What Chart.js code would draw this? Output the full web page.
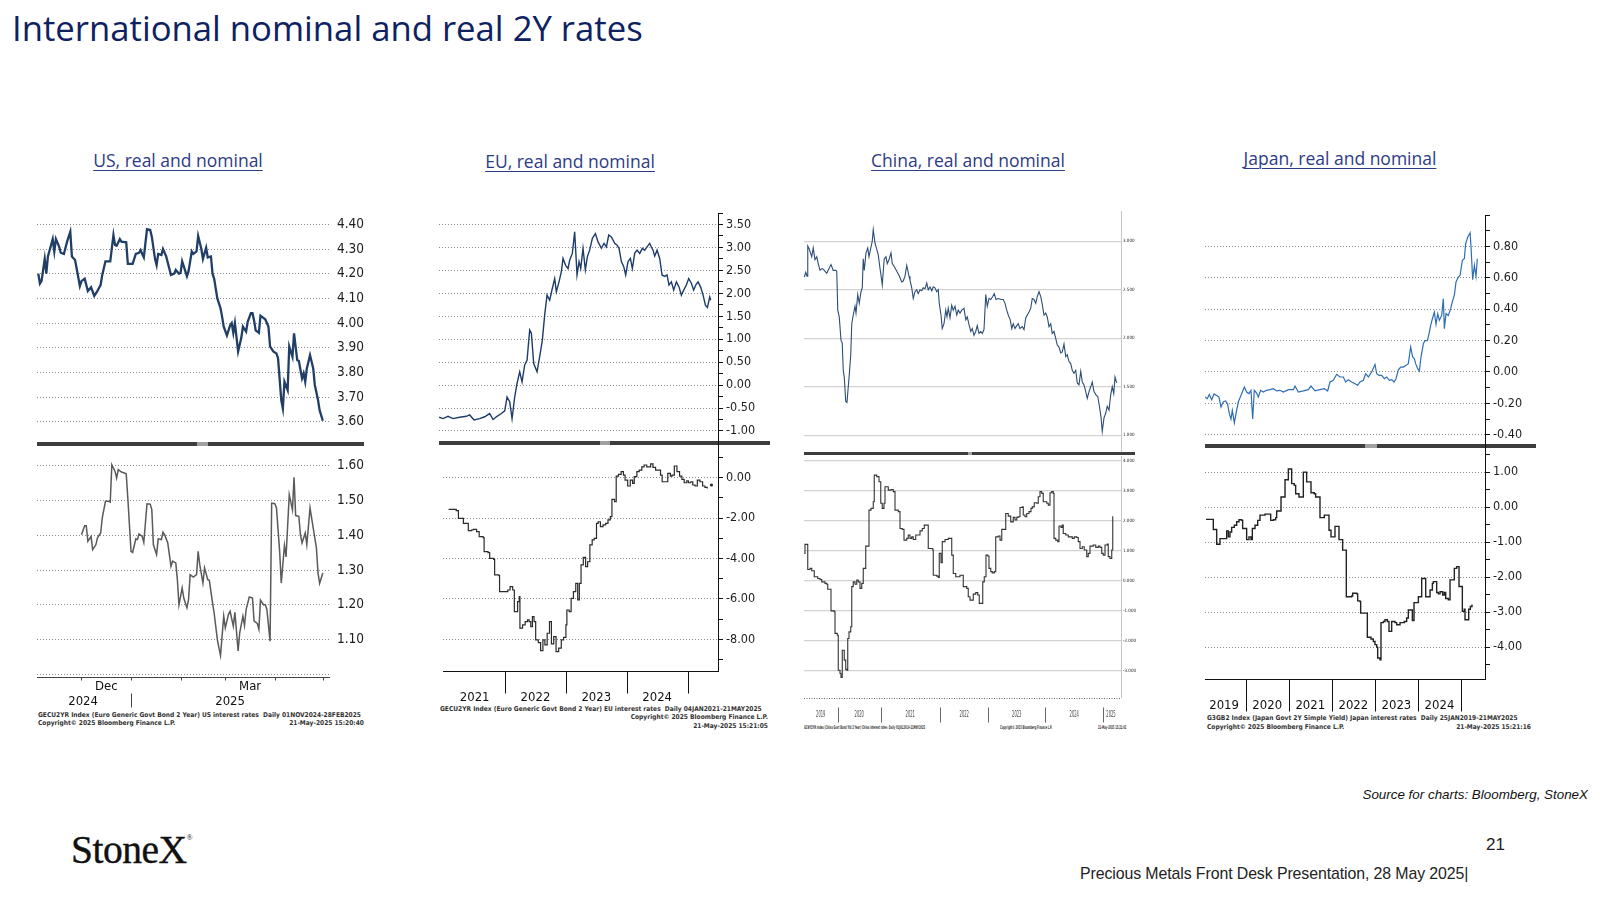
<!DOCTYPE html>
<html>
<head>
<meta charset="utf-8">
<title>International nominal and real 2Y rates</title>
<script src="https://cdn.jsdelivr.net/npm/chart.js@4.4.1/dist/chart.umd.min.js"></script>
<style>
  body { margin: 0; width: 1600px; height: 900px; background: #fff; position: relative; overflow: hidden; font-family: 'Liberation Sans', Arial, sans-serif; }
  .abs { position: absolute; white-space: nowrap; }
  .cw { position: absolute; }
  .ptitle { position: absolute; width: 400px; text-align: center; font: 400 17.5px 'Open Sans', sans-serif; line-height: 24px; color: #2c3b85; text-decoration: underline; text-decoration-thickness: 1px; text-underline-offset: 3px; }
  .fn { position: absolute; white-space: nowrap; font: 600 6.6px 'DejaVu Sans Condensed', 'Liberation Sans', sans-serif; line-height: 8px; color: #333; }
  .bar { position: absolute; background: #3d3d3d; }
  .bar i { position: absolute; top: 0; bottom: 0; background: #a0a0a0; }
</style>
</head>
<body>

<div class="abs" style="left:12px;top:6px;font:400 34.7px 'Open Sans',sans-serif;line-height:44px;color:#0e2262;">International nominal and real 2Y rates</div>

<div class="ptitle" style="left:-22px;top:148px;">US, real and nominal</div>
<div class="ptitle" style="left:370px;top:149px;">EU, real and nominal</div>
<div class="ptitle" style="left:768px;top:148px;">China, real and nominal</div>
<div class="ptitle" style="left:1140px;top:146px;">Japan, real and nominal</div>

<div class="bar" style="left:37px;top:442px;width:327px;height:4px;"><i style="left:160px;width:11px;"></i></div>
<div class="bar" style="left:439px;top:441px;width:331px;height:4px;"><i style="left:161px;width:10px;"></i></div>
<div class="bar" style="left:804px;top:452px;width:331px;height:3px;"><i style="left:164px;width:4px;"></i></div>
<div class="bar" style="left:1205px;top:444px;width:331px;height:4px;"><i style="left:160px;width:12px;"></i></div>
<div class="abs" style="left:718px;top:440px;width:1px;height:6px;background:#111;"></div>
<div class="abs" style="left:1485px;top:443px;width:1px;height:7px;background:#111;"></div>

<div class="fn" style="left:38px;top:711px;">GECU2YR Index (Euro Generic Govt Bond 2 Year) US interest rates&nbsp; Daily 01NOV2024-28FEB2025</div>
<div class="fn" style="left:38px;top:719px;">Copyright© 2025 Bloomberg Finance L.P.</div>
<div class="fn" style="right:1236px;top:719px;">21-May-2025 15:20:40</div>

<div class="fn" style="left:440px;top:705px;">GECU2YR Index (Euro Generic Govt Bond 2 Year) EU interest rates&nbsp; Daily 04JAN2021-21MAY2025</div>
<div class="fn" style="right:832px;top:713px;">Copyright© 2025 Bloomberg Finance L.P.</div>
<div class="fn" style="right:832px;top:722px;">21-May-2025 15:21:05</div>

<div class="fn" style="left:804px;top:723px;font-size:5px;transform:scaleX(0.5);transform-origin:left;">GCNY2YR Index (China Govt Bond Yld 2 Year) China interest rates&nbsp; Daily 01JUL2019-21MAY2025</div>
<div class="fn" style="left:1000px;top:723px;font-size:5px;transform:scaleX(0.5);transform-origin:left;">Copyright© 2025 Bloomberg Finance L.P.</div>
<div class="fn" style="left:1098px;top:723px;font-size:5px;transform:scaleX(0.5);transform-origin:left;">21-May-2025 15:21:02</div>

<div class="fn" style="left:1207px;top:714px;">G3GB2 Index (Japan Govt 2Y Simple Yield) Japan interest rates&nbsp; Daily 25JAN2019-21MAY2025</div>
<div class="fn" style="left:1207px;top:723px;">Copyright© 2025 Bloomberg Finance L.P.</div>
<div class="fn" style="right:69px;top:723px;">21-May-2025 15:21:16</div>

<div class="abs" style="right:12px;top:787px;font:italic 13.4px 'Liberation Sans',Arial,sans-serif;line-height:16px;color:#111;">Source for charts: Bloomberg, StoneX</div>
<div class="abs" style="left:71px;top:817px;font:400 39.5px 'Liberation Serif','Times New Roman',serif;line-height:42px;color:#111;letter-spacing:-0.5px;-webkit-text-stroke:0.4px #111;">StoneX<span style="font-size:8px;vertical-align:23px;-webkit-text-stroke:0;">®</span></div>
<div class="abs" style="left:1486px;top:835px;font:17px 'Liberation Sans',Arial,sans-serif;line-height:20px;color:#222;">21</div>
<div class="abs" style="left:1080px;top:864px;font:15.9px 'Liberation Sans',Arial,sans-serif;line-height:20px;color:#222;letter-spacing:-0.1px;">Precious Metals Front Desk Presentation, 28 May 2025|</div>

<script>
// ---- US 2Y (days since 1 Nov 2024) ----
const usNomDays = [3,4,5,7,8,9,12,13,14,16,17,19,21,23,24,26,27,29,30,32,34,36,38,40,42,43,45,47,48,50,51,52,54,55,58,59,62,64,66,67,68,69,71,73,74,76,77,78,80,81,83,86,88,89,91,92,93,96,97,99,100,102,103,105,106,108,109,111,112,113,115,117,118,119,121,123,124,125,126,128,130,131,133,134,136,137,138,139,141,142,144,145,147,148,150,152,153,155,156,157,159,160,162,163,165,166,168,169,170,171,173,175,176,178,179,181];
const usNomVals = [4.20,4.16,4.17,4.26,4.20,4.27,4.34,4.29,4.34,4.31,4.285,4.28,4.33,4.37,4.27,4.255,4.22,4.15,4.17,4.18,4.13,4.145,4.11,4.13,4.155,4.195,4.25,4.25,4.25,4.357,4.316,4.313,4.34,4.33,4.327,4.24,4.24,4.28,4.285,4.296,4.28,4.266,4.38,4.377,4.35,4.26,4.235,4.28,4.276,4.30,4.27,4.195,4.20,4.215,4.20,4.204,4.25,4.19,4.21,4.29,4.28,4.29,4.353,4.30,4.26,4.305,4.266,4.27,4.20,4.18,4.10,4.06,4.025,3.985,3.95,3.99,4.00,3.96,4.00,3.885,3.94,3.985,3.965,4.005,4.04,4.04,4.01,3.97,3.96,4.03,4.02,4.015,3.985,3.905,3.885,3.877,3.857,3.688,3.654,3.762,3.728,3.905,3.863,3.958,3.85,3.846,3.776,3.796,3.762,3.816,3.87,3.816,3.749,3.688,3.647,3.604];
const usRealDays = [30,32,33,34,36,37,39,40,42,43,45,47,48,49,51,52,53,55,56,58,59,61,62,64,65,66,68,69,71,73,74,75,77,78,80,81,82,84,86,87,89,90,91,93,94,96,97,98,100,102,103,104,106,107,109,110,112,113,115,116,117,119,120,122,123,125,126,128,129,131,132,133,135,137,138,140,141,142,144,145,146,148,149,151,152,154,155,157,158,160,162,163,164,166,167,168,170,171,172,173,175,177,178,179,181];
const usRealVals = [1.402,1.428,1.428,1.383,1.397,1.359,1.373,1.393,1.407,1.45,1.498,1.498,1.496,1.603,1.584,1.565,1.589,1.582,1.581,1.577,1.507,1.354,1.351,1.39,1.388,1.404,1.397,1.38,1.491,1.49,1.474,1.373,1.345,1.39,1.388,1.409,1.402,1.378,1.311,1.326,1.321,1.273,1.20,1.249,1.22,1.192,1.216,1.287,1.28,1.287,1.354,1.316,1.263,1.307,1.273,1.271,1.206,1.177,1.101,1.077,1.055,1.168,1.134,1.173,1.182,1.139,1.179,1.068,1.12,1.168,1.141,1.187,1.223,1.22,1.154,1.147,1.13,1.214,1.20,1.201,1.187,1.096,1.493,1.491,1.479,1.354,1.263,1.371,1.338,1.517,1.474,1.567,1.457,1.455,1.402,1.378,1.407,1.373,1.426,1.479,1.421,1.364,1.292,1.262,1.292];
const usNomTicks = [3.6,3.7,3.8,3.9,4.0,4.1,4.2,4.3,4.4];
const usRealTicks = [1.1,1.2,1.3,1.4,1.5,1.6];
const usRealGridOnly = [1.0];
const usMonthTicks = [30,61,92,120,151,181];
const usMonthLabels = ['Dec','Mar'];
const usMonthLabelAt = [45.5,135.5];
const usYearLabels = ['2024','2025'];
const usYearLabelAt = [31,123];
const usYearSeps = [61];

// ---- EU 2Y (decimal years) ----
const euNomYears = [2020.98,2021.044,2021.125,2021.206,2021.314,2021.422,2021.476,2021.547,2021.639,2021.72,2021.8,2021.855,2021.92,2021.99,2022.044,2022.082,2022.125,2022.163,2022.206,2022.244,2022.287,2022.325,2022.368,2022.406,2022.449,2022.476,2022.514,2022.568,2022.611,2022.654,2022.692,2022.73,2022.773,2022.816,2022.854,2022.881,2022.924,2022.962,2022.989,2023.032,2023.07,2023.097,2023.14,2023.178,2023.216,2023.249,2023.276,2023.313,2023.351,2023.384,2023.421,2023.465,2023.514,2023.557,2023.611,2023.654,2023.692,2023.73,2023.773,2023.827,2023.865,2023.897,2023.935,2023.973,2024.005,2024.043,2024.081,2024.113,2024.151,2024.189,2024.232,2024.275,2024.313,2024.351,2024.394,2024.421,2024.448,2024.475,2024.513,2024.556,2024.594,2024.637,2024.675,2024.707,2024.745,2024.783,2024.826,2024.869,2024.907,2024.945,2024.988,2025.026,2025.069,2025.107,2025.14,2025.178,2025.221,2025.259,2025.297,2025.329,2025.367,2025.383];
const euNomVals = [-0.70,-0.73,-0.68,-0.73,-0.70,-0.68,-0.65,-0.76,-0.73,-0.69,-0.62,-0.75,-0.68,-0.62,-0.56,-0.26,-0.36,-0.73,-0.26,0.04,0.29,0.07,0.44,0.54,1.20,1.13,0.47,0.29,0.62,0.98,1.53,1.96,1.85,2.11,2.32,2.03,2.25,2.47,2.76,2.61,2.54,2.72,2.87,3.34,2.40,2.69,2.54,2.98,2.51,2.80,2.94,3.20,3.30,3.12,2.98,3.09,3.01,3.27,3.23,3.09,3.05,2.98,2.69,2.58,2.40,2.69,2.76,2.54,2.87,2.94,2.87,2.98,2.94,3.01,3.09,3.01,2.94,2.81,2.94,2.76,2.40,2.37,2.40,2.18,2.25,2.07,2.25,2.14,1.96,2.07,2.18,2.32,2.22,2.07,2.18,2.25,2.13,1.96,1.74,1.69,1.92,1.85];
const euRealYears = [2021.071,2021.142,2021.196,2021.233,2021.287,2021.314,2021.368,2021.395,2021.449,2021.476,2021.531,2021.574,2021.639,2021.655,2021.72,2021.747,2021.811,2021.828,2021.898,2021.909,2021.99,2022.044,2022.082,2022.125,2022.152,2022.206,2022.233,2022.244,2022.287,2022.33,2022.368,2022.395,2022.422,2022.449,2022.476,2022.503,2022.546,2022.584,2022.622,2022.654,2022.692,2022.73,2022.762,2022.8,2022.838,2022.881,2022.924,2022.962,2023.0,2023.016,2023.054,2023.086,2023.124,2023.162,2023.194,2023.221,2023.249,2023.286,2023.324,2023.357,2023.394,2023.432,2023.465,2023.503,2023.53,2023.567,2023.61,2023.654,2023.692,2023.73,2023.757,2023.8,2023.827,2023.865,2023.908,2023.946,2023.973,2024.016,2024.059,2024.097,2024.124,2024.167,2024.205,2024.248,2024.286,2024.329,2024.394,2024.432,2024.475,2024.513,2024.556,2024.583,2024.637,2024.675,2024.718,2024.745,2024.783,2024.826,2024.869,2024.907,2024.945,2024.988,2025.015,2025.053,2025.086,2025.124,2025.161,2025.205,2025.248,2025.286,2025.324,2025.36,2025.394];
const euRealVals = [-1.57,-1.57,-1.63,-2.01,-2.01,-2.26,-2.26,-2.62,-2.59,-2.56,-2.67,-2.92,-2.97,-3.66,-3.71,-3.99,-4.04,-4.81,-4.85,-5.64,-5.64,-5.56,-5.39,-5.56,-6.63,-6.13,-5.89,-7.45,-7.29,-7.12,-7.04,-7.12,-7.37,-6.88,-7.12,-8.03,-8.16,-8.56,-8.03,-8.28,-7.70,-7.12,-8.23,-7.87,-8.61,-8.44,-8.03,-7.90,-7.29,-6.55,-6.63,-5.97,-5.64,-5.23,-6.05,-5.23,-4.32,-3.94,-4.40,-4.16,-3.33,-3.08,-3.00,-2.26,-2.18,-2.42,-2.34,-2.26,-2.09,-1.93,-1.07,-1.19,0.08,0.16,0.30,0.13,-0.12,-0.41,-0.12,-0.28,0.05,0.30,0.38,0.54,0.63,0.54,0.68,0.51,0.38,0.38,0.13,-0.20,-0.20,0.21,0.08,0.13,0.58,0.30,0.08,-0.08,-0.25,-0.15,-0.25,-0.20,-0.36,-0.41,-0.12,-0.20,-0.41,-0.48,-0.53,null,-0.36];
const euNomTicks = [-1.0,-0.5,0.0,0.5,1.0,1.5,2.0,2.5,3.0,3.5];
const euNomMinor = [-0.75,-0.25,0.25,0.75,1.25,1.75,2.25,2.75,3.25,3.75];
const euRealTicks = [-8,-6,-4,-2,0];
const euRealMinor = [-9,-7,-5,-3,-1,1];
const euYearSeps = [2022,2023,2024,2025];
const euYearLabels = ['2021','2022','2023','2024'];
const euYearLabelAt = [2021.5,2022.5,2023.5,2024.5];

// ---- China 2Y (trading-day observation number) ----
const chNomObs = [1,7,12,15,21,31,37,44,51,57,64,73,81,91,100,108,117,127,131,135,141,148,153,157,161,167,172,177,181,187,191,197,204,208,215,221,228,233,237,241,248,255,260,267,273,277,284,291,297,304,308,313,317,321,328,333,340,348,353,361,371,380,391,397,404,411,420,424,431,437,444,451,457,464,471,477,484,491,497,504,511,517,524,531,537,541,548,553,560,567,572,577,584,591,597,604,611,617,624,631,640,647,653,660,667,673,680,687,693,700,707,713,720,727,733,740,747,755,761,768,777,788,797,804,811,817,825,831,837,844,851,857,864,873,880,887,893,900,907,913,920,927,933,940,947,953,960,967,973,980,987,993,1000,1007,1013,1020,1027,1033,1040,1047,1053,1060,1067,1073,1080,1087,1093,1100,1107,1113,1120,1127,1133,1140,1147,1153,1160,1167,1175,1181,1188,1193,1200,1207,1213,1220,1227,1233,1239,1244,1251];
const chNomVals = [2.63,2.68,2.64,2.95,2.92,2.84,2.93,2.81,2.84,2.77,2.70,2.72,2.70,2.67,2.72,2.76,2.70,2.70,2.69,2.29,2.22,1.98,1.95,1.67,1.60,1.35,1.34,1.50,1.62,1.83,2.15,2.24,2.33,2.26,2.45,2.36,2.48,2.52,2.82,2.70,2.88,2.93,2.84,2.93,3.00,3.12,2.98,2.92,2.86,2.72,2.65,2.55,2.69,2.82,2.84,2.77,2.81,2.88,2.77,2.74,2.69,2.65,2.58,2.59,2.64,2.75,2.64,2.60,2.52,2.41,2.48,2.50,2.46,2.50,2.49,2.52,2.51,2.57,2.50,2.53,2.49,2.53,2.52,2.48,2.50,2.36,2.24,2.10,2.15,2.29,2.22,2.31,2.21,2.34,2.29,2.33,2.24,2.29,2.26,2.29,2.31,2.19,2.22,2.14,2.07,2.10,2.03,2.07,2.13,2.05,2.07,2.05,2.09,2.45,2.33,2.41,2.40,2.43,2.46,2.40,2.41,2.40,2.40,2.36,2.29,2.24,2.19,2.10,2.15,2.10,2.13,2.15,2.10,2.12,2.09,2.21,2.24,2.27,2.31,2.41,2.40,2.36,2.43,2.48,2.43,2.35,2.24,2.26,2.22,2.12,2.15,2.05,2.07,2.00,1.93,1.91,1.85,1.86,1.94,1.81,1.83,1.76,1.74,1.67,1.64,1.67,1.54,1.52,1.66,1.55,1.52,1.45,1.38,1.45,1.50,1.55,1.45,1.42,1.40,1.31,1.19,1.04,1.18,1.23,1.30,1.26,1.42,1.50,1.43,1.60,1.54];
const chRealObs = [1,4,12,15,21,24,31,37,41,51,55,64,71,84,91,95,104,108,121,124,133,137,144,148,153,161,167,171,175,180,187,191,197,204,211,217,224,231,237,241,247,255,260,268,277,281,291,300,307,313,320,324,331,337,348,357,364,377,384,393,400,411,417,424,431,437,447,455,464,473,481,491,497,515,517,531,537,541,548,553,564,577,584,591,597,607,624,631,637,651,657,664,673,677,687,695,701,711,715,721,728,735,740,747,753,761,767,777,784,791,801,807,817,827,837,844,851,857,864,873,877,884,891,900,908,913,921,931,937,944,951,957,964,971,977,984,991,997,1000,1007,1015,1020,1028,1033,1037,1047,1057,1067,1073,1081,1091,1097,1104,1113,1121,1131,1137,1144,1157,1167,1177,1184,1191,1197,1204,1213,1217,1224,1231,1235];
const chRealVals = [0.91,1.21,1.21,0.37,0.37,0.41,0.33,0.33,0.13,0.13,0.07,0.04,-0.04,-0.09,-0.12,-0.29,-0.29,-1.01,-1.04,-1.76,-1.82,-2.99,-3.10,-3.23,-2.32,-2.65,-2.96,-2.99,-1.93,-1.71,-1.54,-0.20,-0.04,-0.12,0.02,-0.04,-0.26,-0.09,0.41,0.41,1.15,1.15,2.35,2.41,2.63,3.52,3.47,3.30,2.58,2.41,2.58,3.13,3.13,3.02,3.04,2.97,2.35,2.30,1.74,1.71,1.35,1.41,1.52,1.41,1.46,1.37,1.52,1.52,1.66,1.74,1.85,1.85,1.07,1.02,0.18,0.15,0.11,0.91,0.60,1.30,1.37,1.41,1.41,0.85,0.24,0.13,0.18,0.18,-0.20,-0.26,-0.54,-0.65,-0.65,-0.45,-0.40,-0.48,-0.76,-0.76,-0.04,0.13,0.85,0.82,0.41,0.30,0.26,0.30,1.46,1.49,1.35,1.71,1.71,2.24,2.15,1.96,2.11,2.02,2.11,2.13,2.44,2.46,2.19,2.13,2.24,2.30,2.41,2.46,2.60,2.58,2.80,2.97,2.91,2.63,2.63,2.58,2.52,2.93,2.97,2.91,1.41,1.35,1.30,1.82,1.77,1.85,1.57,1.52,1.46,1.46,1.41,1.46,1.44,1.30,1.07,1.13,1.02,0.80,0.91,1.15,1.19,1.11,1.15,1.11,0.91,0.85,1.19,1.22,0.80,0.74,1.02,2.15];
const chNomTicks = [1.0,1.5,2.0,2.5,3.0];
const chRealTicks = [-3,-2,-1,0,1,2,3,4];
const chYearSeps = [135,307,544,737,964,1197];
const chYearLabels = ['2019','2020','2021','2022','2023','2024','2025'];
const chYearLabelAt = [67,221,425,641,851,1081,1228];

// ---- Japan 2Y (decimal years) ----
const jpNomYears = [2019.056,2019.11,2019.156,2019.211,2019.265,2019.327,2019.381,2019.427,2019.481,2019.536,2019.582,2019.621,2019.659,2019.69,2019.737,2019.776,2019.83,2019.876,2019.923,2019.969,2020.023,2020.077,2020.124,2020.163,2020.201,2020.255,2020.294,2020.348,2020.41,2020.488,2020.565,2020.642,2020.72,2020.797,2020.875,2020.991,2021.107,2021.146,2021.223,2021.339,2021.455,2021.517,2021.61,2021.726,2021.827,2021.904,2021.958,2022.036,2022.113,2022.19,2022.268,2022.322,2022.384,2022.461,2022.539,2022.601,2022.655,2022.733,2022.787,2022.849,2022.926,2023.003,2023.042,2023.096,2023.158,2023.22,2023.274,2023.336,2023.39,2023.444,2023.491,2023.545,2023.599,2023.661,2023.723,2023.777,2023.831,2023.877,2023.916,2023.947,2023.994,2024.033,2024.071,2024.126,2024.164,2024.219,2024.258,2024.296,2024.335,2024.381,2024.42,2024.459,2024.497,2024.551,2024.59,2024.613,2024.652,2024.706,2024.76,2024.807,2024.845,2024.884,2024.938,2024.977,2025.031,2025.077,2025.108,2025.155,2025.21,2025.233,2025.271,2025.31,2025.348,2025.379];
const jpNomVals = [-0.16,-0.17,-0.143,-0.177,-0.14,-0.15,-0.16,-0.223,-0.19,-0.185,-0.206,-0.266,-0.30,-0.245,-0.325,-0.266,-0.19,-0.16,-0.128,-0.096,-0.128,-0.138,-0.117,-0.30,-0.117,-0.134,-0.16,-0.117,-0.128,-0.117,-0.113,-0.107,-0.121,-0.117,-0.128,-0.113,-0.113,-0.09,-0.128,-0.121,-0.113,-0.09,-0.121,-0.113,-0.107,-0.121,-0.064,-0.053,-0.015,-0.032,-0.032,-0.064,-0.049,-0.064,-0.075,-0.085,-0.064,-0.053,-0.011,-0.032,0.00,0.048,-0.011,-0.022,-0.022,-0.043,-0.032,-0.053,-0.049,-0.064,-0.043,0.014,0.031,0.031,0.042,0.053,0.159,0.095,0.085,0.053,0.021,0.006,0.095,0.18,0.20,0.20,0.244,0.297,0.339,0.382,0.303,0.371,0.329,0.36,0.467,0.276,0.371,0.36,0.403,0.456,0.488,0.573,0.605,0.615,0.711,0.721,0.817,0.859,0.887,0.796,0.588,0.679,0.609,0.721];
const jpRealYears = [2019.079,2019.211,2019.249,2019.303,2019.327,2019.389,2019.404,2019.52,2019.559,2019.598,2019.636,2019.675,2019.737,2019.791,2019.845,2019.907,2019.93,2020.0,2020.023,2020.077,2020.124,2020.155,2020.217,2020.255,2020.279,2020.333,2020.449,2020.542,2020.581,2020.643,2020.697,2020.72,2020.798,2020.821,2020.891,2020.914,2020.975,2020.991,2021.053,2021.068,2021.13,2021.161,2021.238,2021.3,2021.339,2021.393,2021.416,2021.494,2021.517,2021.594,2021.625,2021.703,2021.726,2021.803,2021.827,2021.904,2021.935,2021.981,2022.036,2022.074,2022.152,2022.167,2022.229,2022.252,2022.322,2022.337,2022.399,2022.461,2022.485,2022.578,2022.601,2022.655,2022.67,2022.755,2022.809,2022.825,2022.91,2022.964,2023.003,2023.042,2023.065,2023.119,2023.142,2023.197,2023.235,2023.29,2023.328,2023.375,2023.39,2023.467,2023.506,2023.584,2023.684,2023.738,2023.777,2023.831,2023.87,2023.909,2023.971,2024.01,2024.064,2024.087,2024.149,2024.18,2024.242,2024.281,2024.335,2024.358,2024.412,2024.435,2024.474,2024.513,2024.575,2024.613,2024.644,2024.706,2024.745,2024.807,2024.845,2024.899,2024.954,2025.0,2025.031,2025.077,2025.093,2025.155,2025.178,2025.217,2025.255];
const jpRealVals = [-0.35,-0.35,-0.64,-0.64,-1.06,-1.06,-0.90,-0.90,-0.68,-0.85,-0.71,-0.58,-0.52,-0.42,-0.36,-0.38,-0.61,-0.61,-0.93,-0.85,-0.93,-0.61,-0.52,-0.52,-0.38,-0.23,-0.20,-0.20,-0.38,-0.36,-0.30,-0.11,-0.11,0.29,0.29,0.78,0.78,1.09,1.09,0.67,0.62,0.38,0.29,0.29,1.00,1.00,0.72,0.72,0.41,0.38,0.29,0.29,-0.30,-0.30,-0.23,-0.23,-0.66,-0.85,-0.85,-0.55,-0.55,-0.93,-0.93,-1.23,-1.23,-2.56,-2.56,-2.54,-2.46,-2.48,-2.68,-2.70,-3.03,-3.03,-3.03,-3.72,-3.77,-3.84,-3.93,-4.00,-4.31,-4.36,-3.30,-3.27,-3.22,-3.27,-3.55,-3.55,-3.27,-3.30,-3.36,-3.30,-3.27,-3.17,-2.94,-2.94,-3.24,-2.73,-2.73,-2.56,-2.56,-2.04,-2.04,-2.56,-2.56,-2.37,-2.18,-2.13,-2.13,-2.44,-2.48,-2.42,-2.51,-2.44,-2.61,-2.65,-2.08,-2.08,-1.75,-1.70,-2.27,-2.27,-2.98,-2.92,-3.22,-3.22,-2.92,-2.84,-2.78];
const jpNomTicks = [-0.4,-0.2,0.0,0.2,0.4,0.6,0.8];
const jpNomMinor = [-0.3,-0.1,0.1,0.3,0.5,0.7,0.9,1.0];
const jpRealTicks = [-4,-3,-2,-1,0,1];
const jpRealMinor = [-4.5,-3.5,-2.5,-1.5,-0.5,0.5,1.5];
const jpYearSeps = [2020,2021,2022,2023,2024,2025];
const jpYearLabels = ['2019','2020','2021','2022','2023','2024'];
const jpYearLabelAt = [2019.5,2020.5,2021.5,2022.5,2023.5,2024.5];

const BBG = "'DejaVu Sans Condensed', 'Liberation Sans', sans-serif";

// bottom axis in Bloomberg style: axis line, tick marks, separators, centred labels
function xAxisPlugin(ax) {
  return {
    id: 'bbgXAxis',
    afterDraw(chart) {
      const ctx = chart.ctx, a = chart.chartArea, x = chart.scales.x;
      const yb = Math.round(a.bottom) + 0.5;
      ctx.save();
      ctx.strokeStyle = ax.color;
      ctx.lineWidth = 1;
      ctx.setLineDash(ax.dash || []);
      ctx.beginPath(); ctx.moveTo(a.left, yb); ctx.lineTo(a.right, yb); ctx.stroke();
      ctx.setLineDash([]);
      const vline = (v, y0, y1) => {
        const px = Math.round(x.getPixelForValue(v)) + 0.5;
        ctx.beginPath(); ctx.moveTo(px, yb + y0); ctx.lineTo(px, yb + y1); ctx.stroke();
      };
      (ax.ticks || []).forEach(v => vline(v, 0, ax.tickLen));
      (ax.seps || []).forEach(v => vline(v, ax.sepFrom, ax.sepTo));
      ctx.fillStyle = ax.textColor || '#111';
      ctx.font = ax.font;
      ctx.textAlign = 'center';
      ctx.textBaseline = 'middle';
      ax.rows.forEach(row => {
        row.text.forEach((t, i) => {
          ctx.save();
          ctx.translate(x.getPixelForValue(row.at[i]), yb + row.dy);
          ctx.scale(ax.sx || 1, 1);
          ctx.fillText(t, 0, 0);
          ctx.restore();
        });
      });
      ctx.restore();
    }
  };
}

function panel(o) {
  const [L, T, R, B] = o.box;
  const padT = 16, padB = o.padB || 16;
  const wrap = document.createElement('div');
  wrap.className = 'cw';
  wrap.style.left = L + 'px';
  wrap.style.top = (T - padT) + 'px';
  wrap.style.width = (R - L + o.axisW) + 'px';
  wrap.style.height = (B - T + padT + padB) + 'px';
  const cv = document.createElement('canvas');
  wrap.appendChild(cv);
  document.body.appendChild(wrap);

  const labeled = o.labeled, gridOnly = o.gridOnly || [], minor = o.minor || [];
  const all = labeled.concat(gridOnly, minor).sort((a, b) => a - b);
  const pts = o.xs.map((x, i) => ({x: x, y: o.ys[i]}));
  const last = pts.length - 1;

  return new Chart(cv, {
    type: 'line',
    data: {
      datasets: [{
        data: pts,
        borderColor: o.color,
        borderWidth: o.lw,
        pointRadius: c => (o.lastDot && c.dataIndex === last ? 1.6 : 0),
        pointBackgroundColor: o.color,
        pointBorderWidth: 0,
        stepped: o.stepped || false,
        spanGaps: false,
        tension: 0
      }]
    },
    options: {
      responsive: true,
      maintainAspectRatio: false,
      animation: false,
      events: [],
      layout: {padding: {top: padT, bottom: padB, left: 0, right: 0}},
      plugins: {legend: {display: false}, tooltip: {enabled: false}},
      scales: {
        x: {type: 'linear', display: false, min: o.xmin, max: o.xmax},
        y: {
          position: 'right',
          min: o.ymin,
          max: o.ymax,
          afterFit: s => { s.width = o.axisW; },
          afterBuildTicks: s => { s.ticks = all.map(v => ({value: v})); },
          ticks: {
            autoSkip: false,
            padding: o.tickPad,
            color: '#1e1e1e',
            font: {family: BBG, size: o.fontSize},
            callback: v => (labeled.includes(v) ? v.toFixed(o.dec) : '')
          },
          grid: {
            drawTicks: !!o.tickLen,
            tickLength: o.tickLen || 0,
            tickColor: '#111',
            lineWidth: o.gridWidth || 1,
            color: c => (c.tick && (labeled.includes(c.tick.value) || gridOnly.includes(c.tick.value)) ? o.gridColor : 'rgba(0,0,0,0)')
          },
          border: {display: !!o.axisLine, color: o.axisLine || '#000', width: 1, dash: o.gridDash || []}
        }
      }
    },
    plugins: o.xaxis ? [xAxisPlugin(o.xaxis)] : []
  });
}

const DOT = [1, 2];

// US
panel({box: [37, 212, 330, 441], axisW: 36, xs: usNomDays, ys: usNomVals, xmin: 2.17, xmax: 185.5, ymin: 3.522, ymax: 4.45,
  labeled: usNomTicks, dec: 2, fontSize: 13.5, tickPad: 7, gridColor: '#8c8c8c', gridDash: DOT, color: '#213f66', lw: 2.3});
panel({box: [37, 446, 330, 677], axisW: 36, padB: 40, xs: usRealDays, ys: usRealVals, xmin: 2.17, xmax: 185.5, ymin: 0.993, ymax: 1.657,
  labeled: usRealTicks, gridOnly: usRealGridOnly, dec: 2, fontSize: 13.5, tickPad: 7, gridColor: '#8c8c8c', gridDash: DOT, color: '#5a5a5a', lw: 1.5,
  xaxis: {color: '#444', ticks: usMonthTicks, tickLen: 3, seps: usYearSeps, sepFrom: 16, sepTo: 30, font: '13px ' + BBG,
    rows: [{text: usMonthLabels, at: usMonthLabelAt, dy: 9}, {text: usYearLabels, at: usYearLabelAt, dy: 24}]}});

// EU
panel({box: [439, 213, 718, 441], axisW: 52, xs: euNomYears, ys: euNomVals, xmin: 2020.979, xmax: 2025.501, ymin: -1.218, ymax: 3.75,
  labeled: euNomTicks, minor: euNomMinor, dec: 2, fontSize: 12.5, tickLen: 5, tickPad: 3, axisLine: '#111', gridColor: '#8c8c8c', gridDash: DOT, color: '#1d3c6a', lw: 1.4});
panel({box: [439, 445, 718, 671], axisW: 52, padB: 40, xs: euRealYears, ys: euRealVals, xmin: 2020.979, xmax: 2025.501, ymin: -9.569, ymax: 1.619,
  labeled: euRealTicks, minor: euRealMinor, dec: 2, fontSize: 12.5, tickLen: 5, tickPad: 3, axisLine: '#111', gridColor: '#8c8c8c', gridDash: DOT, color: '#2b2b2b', lw: 1.2, stepped: true, lastDot: true,
  xaxis: {color: '#111', ticks: [], seps: euYearSeps, sepFrom: 0, sepTo: 22, font: '13px ' + BBG,
    rows: [{text: euYearLabels, at: euYearLabelAt, dy: 26}]}});

// China
panel({box: [804, 211, 1121, 452], axisW: 16, xs: chNomObs, ys: chNomVals, xmin: 0, xmax: 1268, ymin: 0.828, ymax: 3.312,
  labeled: chNomTicks, dec: 3, fontSize: 4.5, tickPad: 2, axisLine: '#c4c4c4', gridColor: '#d2d2d2', gridWidth: 1.3, color: '#2c4d78', lw: 1.1});
panel({box: [804, 456, 1121, 698], axisW: 16, padB: 30, xs: chRealObs, ys: chRealVals, xmin: 0, xmax: 1268, ymin: -3.915, ymax: 4.157,
  labeled: chRealTicks, dec: 3, fontSize: 4.5, tickPad: 2, axisLine: '#c4c4c4', gridColor: '#d2d2d2', gridWidth: 1.3, color: '#333333', lw: 1.1, stepped: true,
  xaxis: {color: '#666', dash: [1, 1.5], ticks: [], seps: chYearSeps, sepFrom: 9, sepTo: 24, font: '9px ' + BBG, sx: 0.45, textColor: '#444',
    rows: [{text: chYearLabels, at: chYearLabelAt, dy: 16}]}});

// Japan
panel({box: [1205, 215, 1485, 444], axisW: 42, xs: jpNomYears, ys: jpNomVals, xmin: 2019.056, xmax: 2025.557, ymin: -0.459, ymax: 1.0,
  labeled: jpNomTicks, minor: jpNomMinor, dec: 2, fontSize: 12.5, tickLen: 5, tickPad: 3, axisLine: '#111', gridColor: '#8c8c8c', gridDash: DOT, color: '#2f6eb5', lw: 1.2});
panel({box: [1205, 449, 1485, 679], axisW: 42, padB: 40, xs: jpRealYears, ys: jpRealVals, xmin: 2019.056, xmax: 2025.557, ymin: -4.911, ymax: 1.66,
  labeled: jpRealTicks, minor: jpRealMinor, dec: 2, fontSize: 12.5, tickLen: 5, tickPad: 3, axisLine: '#111', gridColor: '#8c8c8c', gridDash: DOT, color: '#222222', lw: 1.4, stepped: true,
  xaxis: {color: '#111', ticks: [], seps: jpYearSeps, sepFrom: 0, sepTo: 32, font: '13px ' + BBG,
    rows: [{text: jpYearLabels, at: jpYearLabelAt, dy: 26}]}});
</script>
</body>
</html>
